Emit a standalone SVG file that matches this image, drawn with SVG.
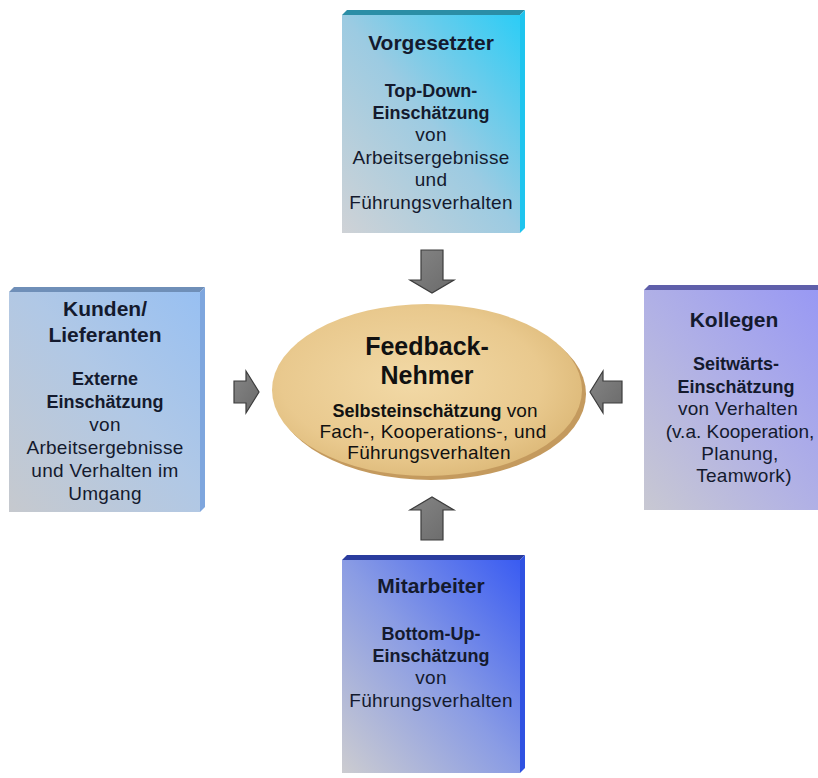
<svg xmlns="http://www.w3.org/2000/svg" width="818" height="778" viewBox="0 0 818 778">
<defs>
<linearGradient id="gTop" x1="0" y1="1" x2="1" y2="0"><stop offset="0" stop-color="#cfd2d6"/><stop offset="0.5" stop-color="#9ccbe2"/><stop offset="1" stop-color="#2ccdf6"/></linearGradient>
<linearGradient id="gLeft" x1="0" y1="1" x2="1" y2="0"><stop offset="0" stop-color="#c6c9ce"/><stop offset="0.55" stop-color="#b0c8e6"/><stop offset="1" stop-color="#98c0f2"/></linearGradient>
<linearGradient id="gRight" x1="0" y1="1" x2="1" y2="0"><stop offset="0" stop-color="#c8c8d2"/><stop offset="0.5" stop-color="#b0b0e6"/><stop offset="1" stop-color="#9898f4"/></linearGradient>
<linearGradient id="gBot" x1="0" y1="1" x2="1" y2="0"><stop offset="0" stop-color="#ccccd0"/><stop offset="0.5" stop-color="#8a9ce4"/><stop offset="1" stop-color="#3a5cf2"/></linearGradient>
<radialGradient id="gEll" cx="0.45" cy="0.45" r="0.6"><stop offset="0" stop-color="#f2d9a6"/><stop offset="0.7" stop-color="#e9c98e"/><stop offset="1" stop-color="#dcb877"/></radialGradient>
<linearGradient id="gArr" x1="0" y1="0" x2="1" y2="1"><stop offset="0" stop-color="#858585"/><stop offset="1" stop-color="#6a6a6a"/></linearGradient>
</defs>
<style>
.t{font-family:"Liberation Sans",Arial,sans-serif;fill:#141a2e;text-anchor:middle}
.h{font-size:21px;font-weight:bold}
.b{font-size:18px;font-weight:bold}
.r{font-size:19px;letter-spacing:0.3px}
.arr{fill:url(#gArr);stroke:#3c3c3c;stroke-width:1.2;stroke-linejoin:miter}
</style>
<rect width="818" height="778" fill="#ffffff"/>

<g id="connectors">
<polygon class="arr" points="421,250 443,250 443,280 454,280 432,293 410,280 421,280"/>
<polygon class="arr" points="421,540 443,540 443,510 454,510 432,497 410,510 421,510"/>
<polygon class="arr" points="234,381 246,381 246,371 259,392 246,413 246,403 234,403"/>
<polygon class="arr" points="622,381 603,381 603,371 590,392 603,413 603,403 622,403"/>
</g>

<g id="vorgesetzter">
<polygon points="342,15 347,10 525,10 520,15" fill="#2b8ea6"/>
<polygon points="520,15 525,10 525,228 520,233" fill="#1fc4ee"/>
<rect x="342" y="15" width="178" height="218" fill="url(#gTop)"/>
<text class="t h" x="431" y="50">Vorgesetzter</text>
<text class="t b" x="431" y="97">Top-Down-</text>
<text class="t b" x="431" y="119">Einschätzung</text>
<text class="t r" x="431" y="141">von</text>
<text class="t r" x="431" y="164">Arbeitsergebnisse</text>
<text class="t r" x="431" y="186">und</text>
<text class="t r" x="431" y="209">Führungsverhalten</text>
</g>

<g id="kunden">
<polygon points="9,292 14,287 205,287 200,292" fill="#6f8fb8"/>
<polygon points="200,292 205,287 205,507 200,512" fill="#7ea6de"/>
<rect x="9" y="292" width="191" height="220" fill="url(#gLeft)"/>
<text class="t h" x="105" y="316">Kunden/</text>
<text class="t h" x="105" y="342">Lieferanten</text>
<text class="t b" x="105" y="385">Externe</text>
<text class="t b" x="105" y="408">Einschätzung</text>
<text class="t r" x="105" y="431">von</text>
<text class="t r" x="105" y="454">Arbeitsergebnisse</text>
<text class="t r" x="105" y="477">und Verhalten im</text>
<text class="t r" x="105" y="500">Umgang</text>
</g>

<g id="kollegen">
<polygon points="644,290 649,285 822,285 818,290" fill="#5f5faa"/>
<rect x="644" y="290" width="178" height="220" fill="url(#gRight)"/>
<text class="t h" x="734" y="327">Kollegen</text>
<text class="t b" x="736" y="370">Seitwärts-</text>
<text class="t b" x="736" y="393">Einschätzung</text>
<text class="t r" x="738" y="415">von Verhalten</text>
<text class="t" x="740" y="438" style="font-size:19px">(v.a. Kooperation,</text>
<text class="t r" x="740" y="460">Planung,</text>
<text class="t r" x="744" y="482">Teamwork)</text>
</g>

<g id="mitarbeiter">
<polygon points="342,560 347,555 525,555 520,560" fill="#2a3c9e"/>
<polygon points="520,560 525,555 525,768 520,773" fill="#2f52e2"/>
<rect x="342" y="560" width="178" height="213" fill="url(#gBot)"/>
<text class="t h" x="431" y="593">Mitarbeiter</text>
<text class="t b" x="431" y="640">Bottom-Up-</text>
<text class="t b" x="431" y="662">Einschätzung</text>
<text class="t r" x="431" y="684">von</text>
<text class="t r" x="431" y="707">Führungsverhalten</text>
</g>

<g id="feedback-nehmer">
<ellipse cx="431" cy="394" rx="155" ry="86" fill="#c49a5e"/>
<ellipse cx="427" cy="390" rx="155" ry="86" fill="url(#gEll)"/>
<text class="t" x="427" y="355" style="font-size:25px;font-weight:bold;fill:#111">Feedback-</text>
<text class="t" x="427" y="384" style="font-size:25px;font-weight:bold;fill:#111">Nehmer</text>
<text class="t" x="435" y="417" style="fill:#111"><tspan style="font-size:18px;font-weight:bold">Selbsteinschätzung</tspan><tspan style="font-size:19px"> von</tspan></text>
<text class="t r" x="433" y="438" style="fill:#111">Fach-, Kooperations-, und</text>
<text class="t r" x="429" y="459" style="fill:#111">Führungsverhalten</text>
</g>
</svg>
